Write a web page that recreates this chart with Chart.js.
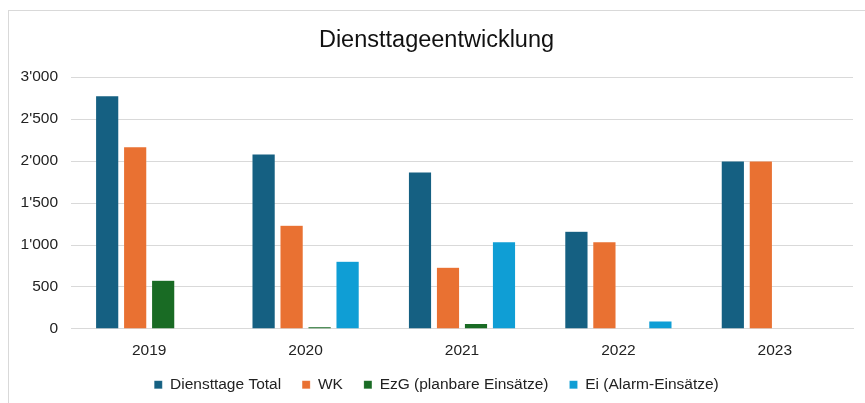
<!DOCTYPE html>
<html>
<head>
<meta charset="utf-8">
<script src="https://cdn.jsdelivr.net/npm/chart.js@4"></script>
<style>
    html, body { margin: 0; padding: 0; background: #fff; overflow: hidden; }
    #rahmen {
        position: absolute; left: 8px; top: 10px;
        width: 900px; height: 440px;
        border: 1px solid #d9d9d9;
    }
    #graficoDienste { position: absolute; left: 0; top: 0; }
</style>
</head>
<body>
<div id="rahmen"></div>
<canvas id="graficoDienste" width="865" height="403"></canvas>
<script>
// Daten
const jahre = ['2019', '2020', '2021', '2022', '2023'];
const diensttageTotal = [2780, 2085, 1870, 1165, 2000];
const wk = [2170, 1235, 735, 1040, 2000];
const ezg = [580, 25, 65, 0, 0];
const ei = [0, 805, 1040, 95, 0];
const serien = ['Diensttage Total', 'WK', 'EzG (planbare Einsätze)', 'Ei (Alarm-Einsätze)'];

const farben = ['#156082', '#e97132', '#196b24', '#0f9ed5'];
const schrift = "'Liberation Sans', Arial, sans-serif";

// 3'000 statt 3000
const formatZahl = (v) => String(v).replace(/\B(?=(\d{3})+(?!\d))/g, "'");

const werte = [diensttageTotal, wk, ezg, ei];

new Chart(document.getElementById('graficoDienste'), {
    type: 'bar',
    data: {
        labels: jahre,
        datasets: serien.map((name, i) => ({
            label: name,
            data: werte[i],
            backgroundColor: farben[i],
            borderColor: 'rgba(255,255,255,0.3)',
            borderWidth: 0.5,
            categoryPercentage: 0.716,
            barPercentage: 0.83
        }))
    },
    options: {
        responsive: false,
        animation: false,
        layout: { padding: { left: 20, right: 12, top: 0, bottom: -17 } },
        plugins: {
            title: {
                display: true,
                text: 'Diensttageentwicklung',
                color: '#111',
                font: { family: schrift, size: 23.5, weight: 'normal' },
                padding: { top: 26, bottom: 23 }
            },
            legend: {
                position: 'bottom',
                labels: {
                    boxWidth: 8,
                    boxHeight: 8,
                    padding: 21,
                    color: '#222',
                    font: { family: schrift, size: 15.5 }
                }
            },
            tooltip: { enabled: false }
        },
        scales: {
            x: {
                grid: { display: false, drawTicks: false },
                border: { color: '#d9d9d9', width: 1 },
                ticks: {
                    color: '#222',
                    padding: 13,
                    font: { family: schrift, size: 15.5 }
                }
            },
            y: {
                min: 0,
                max: 3000,
                grid: { color: '#d9d9d9', drawTicks: false },
                border: { display: false },
                ticks: {
                    stepSize: 500,
                    padding: 13,
                    color: '#222',
                    font: { family: schrift, size: 15.5 },
                    callback: (v) => formatZahl(v)
                },
                // schmaler, damit Titel und Legende mittig wie im Original sitzen
                afterFit: (scale) => { scale.width = 51; }
            }
        }
    },
    plugins: [{
        // Legende knapp unter die Jahreszahlen setzen
        id: 'legendeHoch',
        afterLayout(chart) {
            const versatz = chart.chartArea.bottom + 27 - chart.legend.top;
            chart.legend.top += versatz;
            chart.legend.bottom += versatz;
        }
    }]
});
</script>
</body>
</html>
